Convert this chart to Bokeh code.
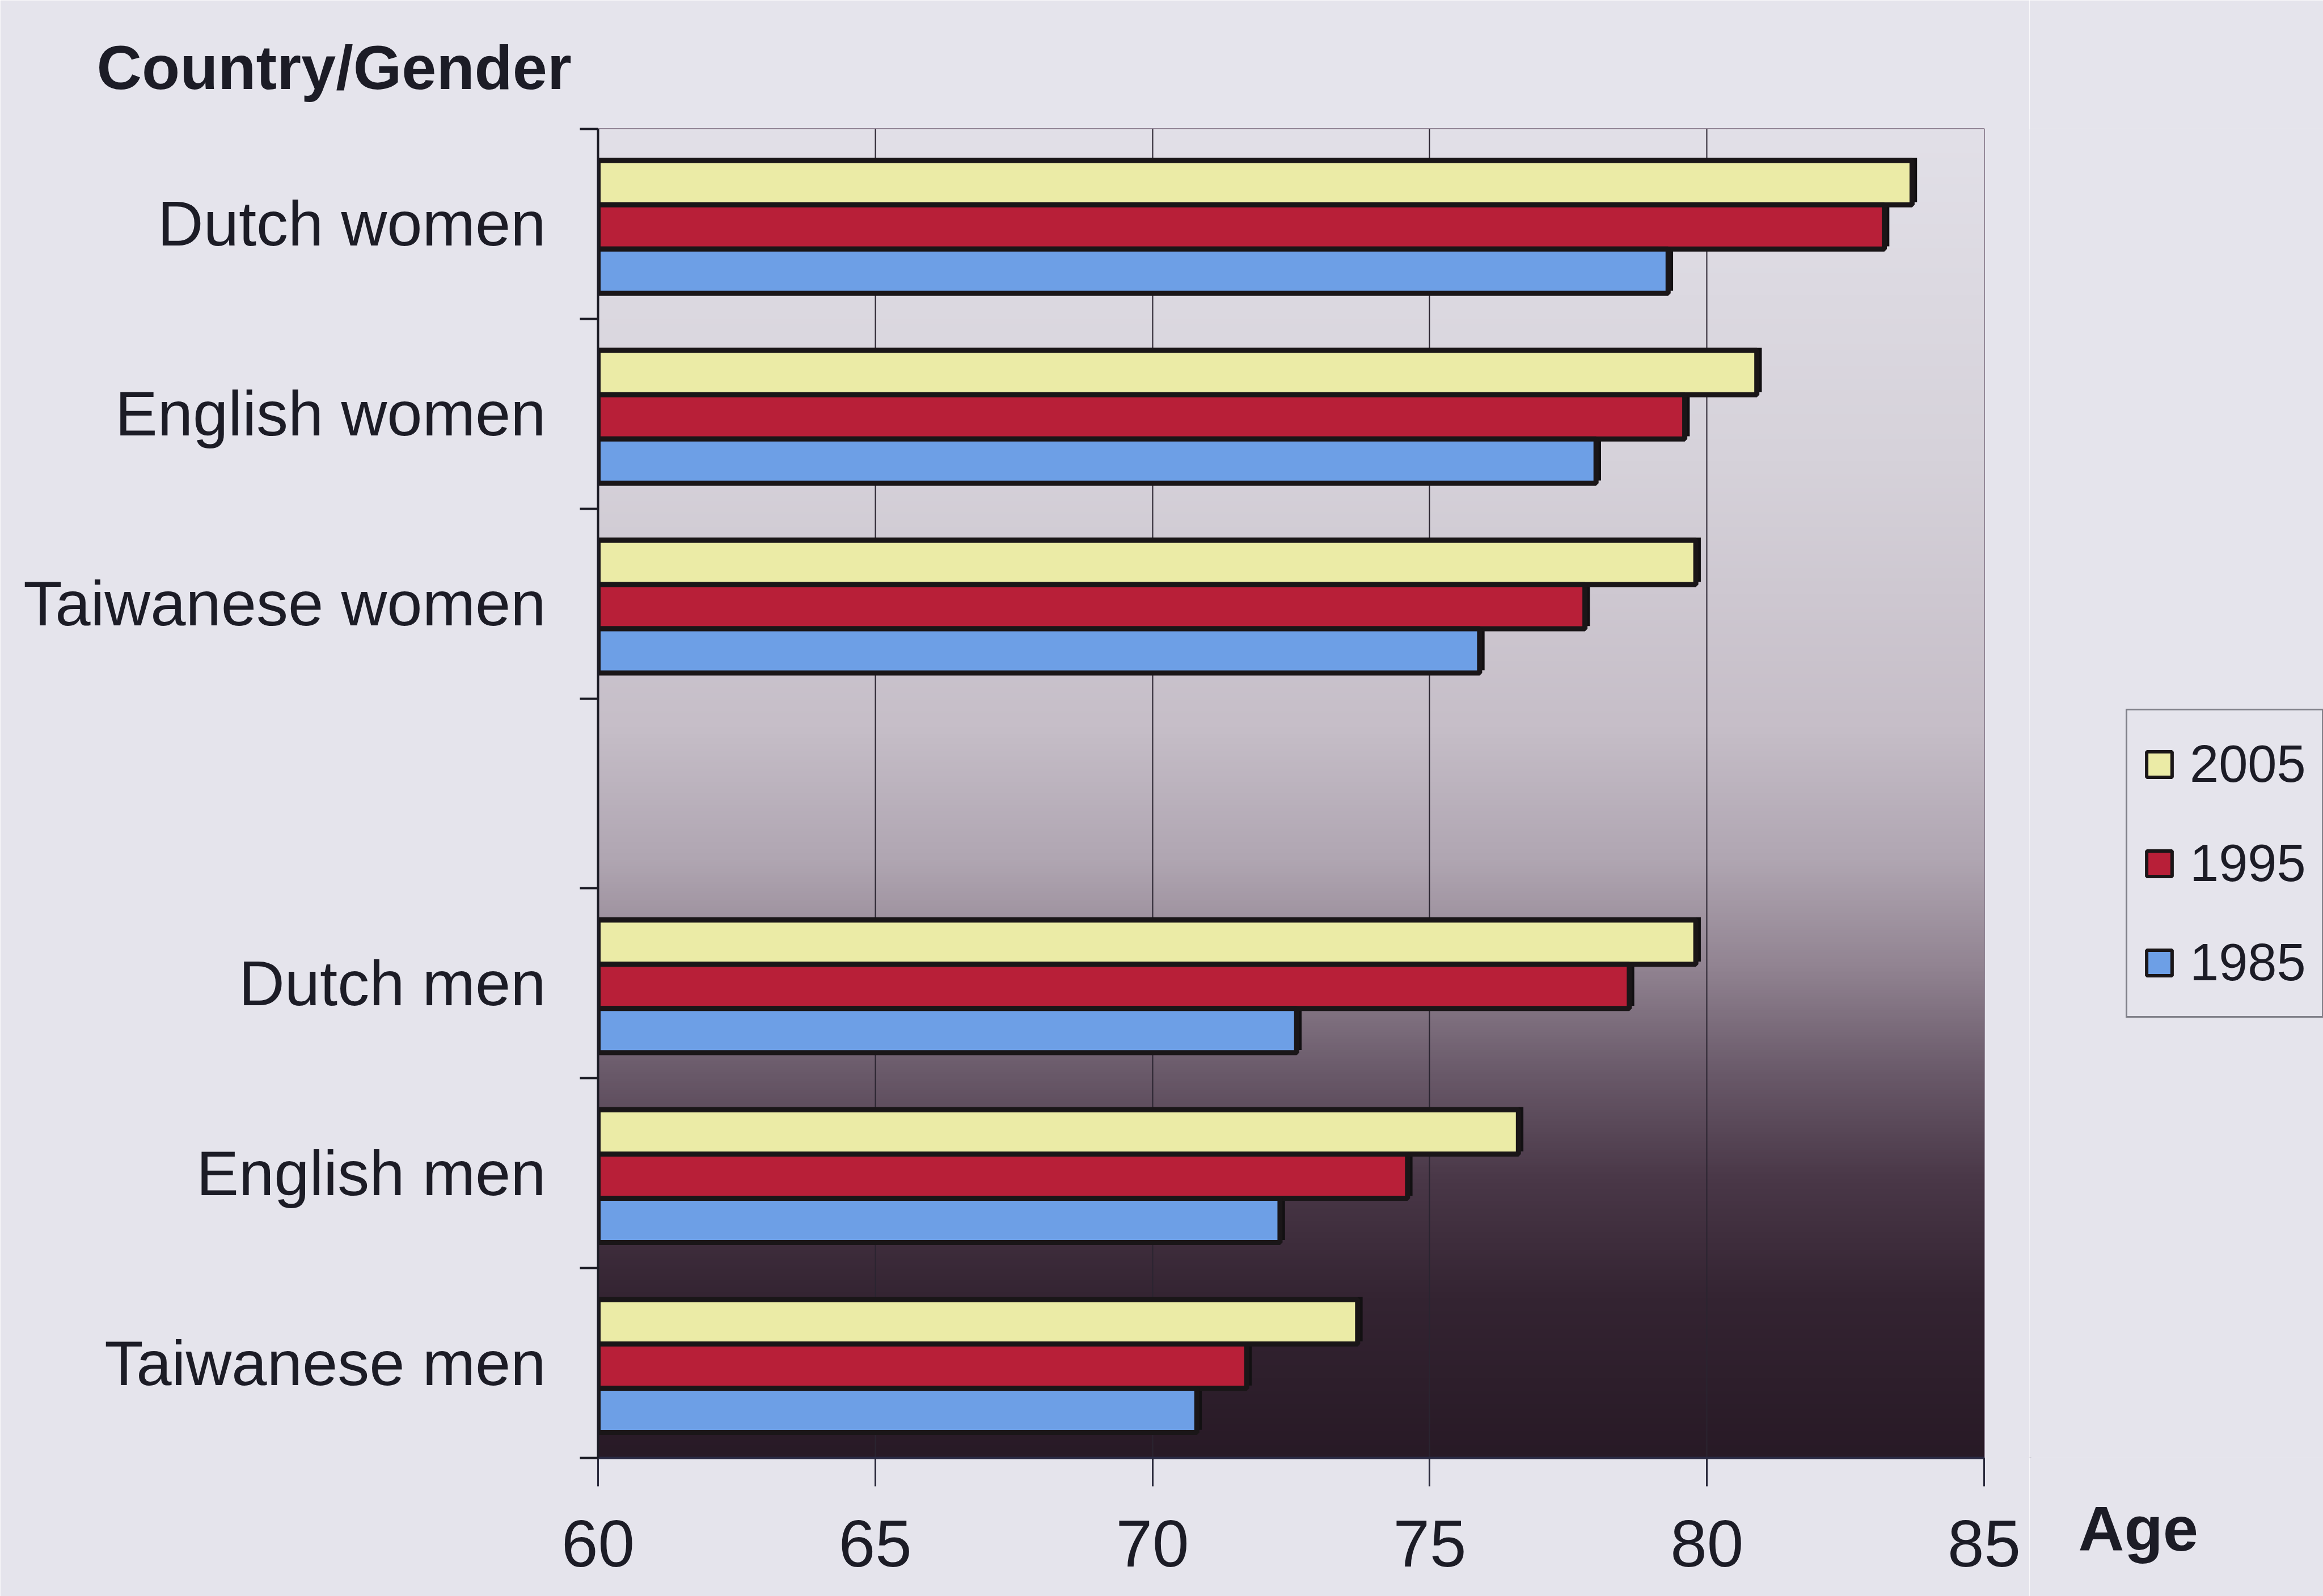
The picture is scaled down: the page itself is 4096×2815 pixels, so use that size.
import numpy as np
from bokeh.plotting import figure
from bokeh.layouts import row
from bokeh.models import Range1d, FixedTicker, Label, Legend, LegendItem
from bokeh.embed import file_html
from bokeh.resources import INLINE

# ---- data ----
categories = ["Dutch women", "English women", "Taiwanese women",
              "Dutch men", "English men", "Taiwanese men"]
years = ["2005", "1995", "1985"]
age_2005 = [83.7, 80.9, 79.8, 79.8, 76.6, 73.7]
age_1995 = [83.2, 79.6, 77.8, 78.6, 74.6, 71.7]
age_1985 = [79.3, 78.0, 75.9, 72.6, 72.3, 70.8]
x_ticks = [60, 65, 70, 75, 80, 85]

# ---- style ----
FONT = "Liberation Sans"
PAGE_BG = "#e5e4ec"
TEXT = "#1c1c26"
DARK = "#1a1618"
colors = ["#ebeba6", "#b81f38", "#6d9fe6"]

W, H = 4096, 2815
L, T, B = 1054, 227, 244
FRAME_RIGHT = 3498
FRAME_BOTTOM = H - B
R_MAIN = 80                     # room for the "85" tick label
W_MAIN = FRAME_RIGHT + R_MAIN   # width of the chart figure
W_SIDE = W - W_MAIN             # width of the legend strip

n_slots = 7
x0, x1 = 60, 85

p = figure(width=W_MAIN, height=H, output_backend="svg", toolbar_location=None,
           x_range=Range1d(x0, x1), y_range=Range1d(0, n_slots),
           min_border_left=L, min_border_right=R_MAIN, min_border_top=T, min_border_bottom=B,
           background_fill_color="#e2e0e8", border_fill_color=PAGE_BG,
           title="Country/Gender")
p.outline_line_color = "#8e8292"
p.outline_line_width = 3

p.title.align = "left"
p.title.vertical_align = "top"
p.title.offset = 170 - L
p.title.standoff = 92
p.title.text_font = FONT
p.title.text_font_style = "bold"
p.title.text_font_size = "110px"
p.title.text_color = TEXT

# gradient background (vertical)
stops = [(0.00, (226, 224, 232)), (0.25, (214, 210, 218)), (0.45, (198, 190, 200)),
         (0.55, (176, 166, 178)), (0.63, (146, 132, 146)), (0.71, (106, 90, 106)),
         (0.79, (74, 56, 72)), (0.88, (52, 36, 50)), (1.00, (40, 26, 38))]
N = 600
fr = np.linspace(1.0, 0.0, N)  # row 0 = bottom
sf = [st[0] for st in stops]
img = np.empty((N, 2), dtype=np.uint32)
view = img.view(dtype=np.uint8).reshape((N, 2, 4))
for k in range(3):
    ch = np.interp(fr, sf, [st[1][k] for st in stops])
    view[:, :, k] = ch.astype(np.uint8)[:, None]
view[:, :, 3] = 255
p.image_rgba(image=[img], x=x0, y=0, dw=x1 - x0, dh=n_slots, level="image")

# slot centres (top to bottom, one empty slot between women and men)
slot_idx = [i + (1 if i >= 3 else 0) for i in range(len(categories))]
centers = [n_slots - si - 0.5 for si in slot_idx]

bh = 0.233
shift = -0.016
series = [age_2005, age_1995, age_1985]
offsets = [bh, 0.0, -bh]

# shadows
for vals, off in zip(series, offsets):
    ys = [c + off + shift + 0.014 for c in centers]
    p.hbar(y=ys, left=x0, right=[v + 0.09 for v in vals], height=bh,
           fill_color="#121012", line_color=None)

for vals, off, col in zip(series, offsets, colors):
    ys = [c + off + shift for c in centers]
    p.hbar(y=ys, left=x0, right=vals, height=bh, fill_color=col,
           line_color=DARK, line_width=9)

# axes
p.xaxis.ticker = x_ticks
p.xaxis.major_label_text_font = FONT
p.xaxis.major_label_text_font_size = "116px"
p.xaxis.major_label_text_color = TEXT
p.xaxis.major_tick_out = 50
p.xaxis.major_tick_in = 0
p.xaxis.major_tick_line_width = 3
p.xaxis.major_tick_line_color = "#2a2a3c"
p.xaxis.minor_tick_line_color = None
p.xaxis.axis_line_width = 4
p.xaxis.axis_line_color = "#2a2a44"
p.xaxis.major_label_standoff = 60

p.yaxis.ticker = FixedTicker(ticks=centers, minor_ticks=list(range(n_slots + 1)))
p.yaxis.major_label_overrides = {c: name for c, name in zip(centers, categories)}
p.yaxis.major_tick_out = 0
p.yaxis.major_tick_in = 0
p.yaxis.minor_tick_out = 32
p.yaxis.minor_tick_in = 0
p.yaxis.minor_tick_line_width = 4
p.yaxis.minor_tick_line_color = "#1c1c26"
p.yaxis.axis_line_width = 4
p.yaxis.axis_line_color = "#1c1c26"
p.yaxis.major_label_text_font = FONT
p.yaxis.major_label_text_font_size = "112px"
p.yaxis.major_label_text_color = TEXT
p.yaxis.major_label_standoff = 60

p.xgrid.grid_line_color = "#2a2430"
p.xgrid.grid_line_width = 2
p.ygrid.grid_line_color = None

# ---- legend strip (right of the chart) ----
s = figure(width=W_SIDE, height=H, output_backend="svg", toolbar_location=None,
           x_range=Range1d(0, 1), y_range=Range1d(0, 1),
           x_axis_type=None, y_axis_type=None, min_border=0,
           background_fill_color=PAGE_BG, border_fill_color=PAGE_BG)
s.outline_line_color = None
s.grid.visible = False

# legend swatches: one off-range, zero-size bar each (only their style is shown)
swatches = [s.hbar(y=[-5], left=[0], right=[0], height=0, fill_color=col,
                   line_color=DARK, line_width=6)
            for col in colors]
legend = Legend(items=[LegendItem(label=y, renderers=[r]) for y, r in zip(years, swatches)],
                location=(3748 - W_MAIN, FRAME_BOTTOM - 1795))
legend.label_text_font = FONT
legend.label_text_font_size = "92px"
legend.label_text_color = TEXT
legend.glyph_width = 56
legend.glyph_height = 56
legend.label_height = 133
legend.label_standoff = 26
legend.spacing = 42
legend.padding = 28
legend.margin = 0
legend.border_line_color = "#1c1c26"
legend.border_line_width = 3
legend.background_fill_color = PAGE_BG
legend.background_fill_alpha = 1.0
s.add_layout(legend)

# "Age" sits below the aligned frame, so it goes in the strip's bottom panel
s.add_layout(Label(x=3664 - W_MAIN, y=0,
                   x_units="screen", y_units="screen",
                   text="Age", text_font=FONT,
                   text_font_style="bold", text_font_size="112px", text_color=TEXT,
                   text_baseline="alphabetic"), "below")

layout = row(p, s)
open("out.html", "w").write(file_html(layout, INLINE))
